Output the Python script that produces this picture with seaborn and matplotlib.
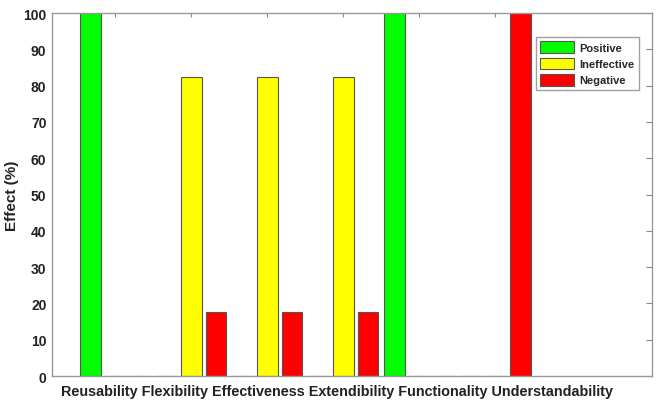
import numpy as np
import pandas as pd
import matplotlib
matplotlib.use('Agg')
import matplotlib.pyplot as plt
import seaborn as sns

# Chart values (percent of respondents per quality attribute)
categories = ['Reusability', 'Flexibility', 'Effectiveness',
              'Extendibility', 'Functionality', 'Understandability']
effect_types = ['Positive', 'Ineffective', 'Negative']
positive = [100, 0, 0, 0, 100, 0]
ineffective = [0, 82.35, 82.35, 82.35, 0, 0]
negative = [0, 17.65, 17.65, 17.65, 0, 100]
y_ticks = list(range(0, 101, 10))


def build_frame():
    """Long format table for seaborn"""
    rows = []
    for name, values in zip(effect_types, [positive, ineffective, negative]):
        for cat, val in zip(categories, values):
            rows.append({'Category': cat, 'Type': name, 'Effect': val})
    return pd.DataFrame(rows)


def main():
    sns.set_style('white')
    plt.rcParams['font.family'] = ['Liberation Sans', 'DejaVu Sans']

    df = build_frame()
    palette = {'Positive': '#00FF00', 'Ineffective': '#FFFF00', 'Negative': '#FF0000'}

    fig = plt.figure(figsize=(6.62, 4.06), dpi=100)
    ax = fig.add_axes([0.0785, 0.0714, 0.9063, 0.8941])

    sns.barplot(data=df, x='Category', y='Effect', hue='Type',
                order=categories, hue_order=effect_types, palette=palette,
                width=0.98, gap=0.16, errorbar=None, saturation=1,
                edgecolor='#555555', linewidth=0.8, ax=ax)

    ax.set_xlim(-0.83, 7.06)
    ax.set_ylim(0, 100)
    ax.set_yticks(y_ticks)
    ax.set_yticklabels([str(t) for t in y_ticks], fontweight='bold', fontsize=10)

    # ticks inside on every side, names written as one label line
    ax.tick_params(axis='both', direction='in', length=4, width=0.8,
                   color='#888888', top=True, right=True, labelcolor='#222222')
    ax.tick_params(axis='y', pad=4)
    ax.tick_params(axis='x', labelbottom=False, length=3)
    for side in ['left', 'right', 'top', 'bottom']:
        ax.spines[side].set_color('#999999')
        ax.spines[side].set_linewidth(1.0)

    ax.set_xlabel(' '.join(categories), fontsize=10.4, fontweight='bold',
                  color='#222222')
    ax.xaxis.set_label_coords(0.475, -0.022)
    ax.set_ylabel('Effect (%)', fontsize=11, fontweight='bold', color='#222222',
                  labelpad=3)

    ax.legend(loc='upper right', bbox_to_anchor=(0.978, 0.934), borderaxespad=0,
              prop={'weight': 'bold', 'size': 8}, frameon=True, fancybox=False,
              edgecolor='#888888', handlelength=3.0, handleheight=1.25,
              labelspacing=0.4, borderpad=0.4, handletextpad=0.5)

    fig.savefig('out.png', dpi=100)


if __name__ == "__main__":
    main()
